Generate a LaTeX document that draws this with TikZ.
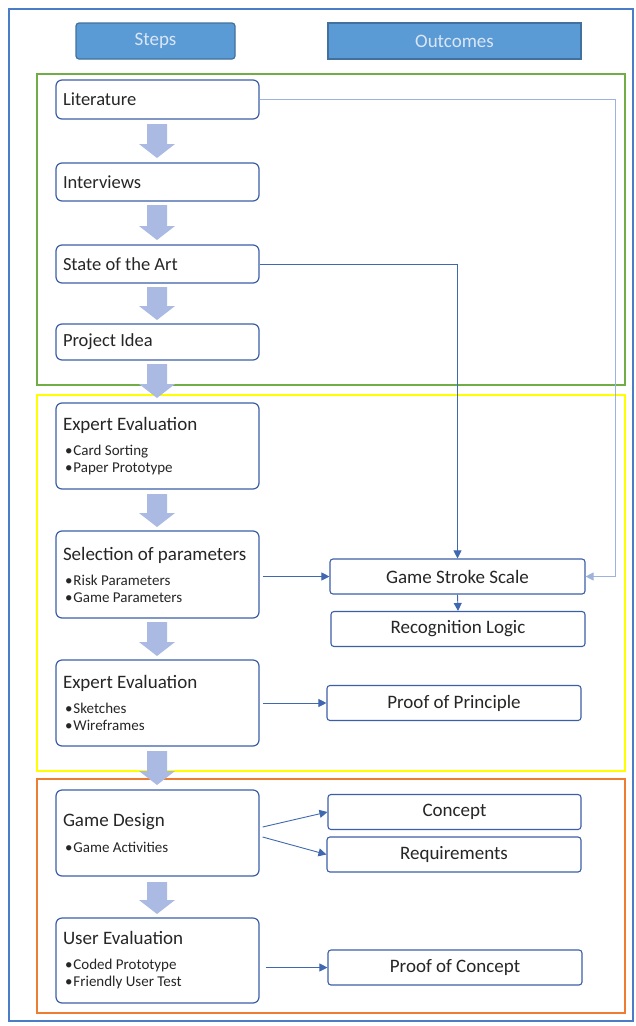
\documentclass[tikz,border=0pt]{standalone}
\usepackage{fontspec}
\setmainfont{Carlito}
\usetikzlibrary{arrows.meta}
\definecolor{frameblue}{HTML}{4A7CC8}
\definecolor{headfill}{HTML}{5B9BD5}
\definecolor{headline}{HTML}{41719C}
\definecolor{headtext}{HTML}{DAE6F5}
\definecolor{boxline}{HTML}{3B5EA8}
\definecolor{blockfill}{HTML}{ABBAE2}
\definecolor{litline}{HTML}{9DB3DE}
\definecolor{connblue}{HTML}{4068B0}
\definecolor{grn}{HTML}{70AD47}
\definecolor{ylw}{HTML}{FFFF00}
\definecolor{org}{HTML}{ED7D31}
\definecolor{txt}{HTML}{262626}
\tikzset{
  x=1pt, y=-1pt,
  header/.style={draw=headline, fill=headfill, line width=1.2pt, text=headtext,
    minimum height=36pt, inner sep=0pt, font=\fontsize{19}{21}\selectfont},
  stepbox/.style={draw=boxline, line width=1.2pt, rounded corners=6pt, fill=white,
    text width=189pt, align=flush left, inner xsep=7pt, inner ysep=0pt, text=txt,
    font=\fontsize{18.5}{22}\selectfont},
  outbox/.style={draw=boxline, line width=1.1pt, rounded corners=3pt, fill=white,
    minimum width=254pt, minimum height=35pt, inner sep=0pt, text=txt,
    font=\fontsize{19}{21}\selectfont},
  frame/.style={line width=2.2pt},
  conn/.style={draw=connblue, line width=0.9pt, -{Triangle[length=8pt,width=8pt]}},
  blockarrow/.style={fill=blockfill, draw=none},
}
\newcommand{\ttl}[1]{{\fontsize{19}{22}\selectfont #1}}
\newcommand{\bul}{\fontsize{15}{18}\selectfont}
\newcommand{\bi}{\hspace*{2pt}•\hspace{1pt}}
\newcommand{\blkarrow}[2]{%
  \fill[blockarrow] (147,#1) -- (167,#1) -- (167,#2-14) -- (175,#2-14) -- (157,#2)
    -- (139,#2-14) -- (147,#2-14) -- cycle;}
\begin{document}
\begin{tikzpicture}
\useasboundingbox (0,0) rectangle (636,1026);
% outer frame
\draw[frameblue, line width=1.3pt] (9,9) rectangle (633,1021);
% headers
\node[header, minimum width=159pt, rounded corners=3pt] (steps) at (155.5,41) {Steps};
\node[header, minimum width=253pt] (outc) at (454.5,41) {Outcomes};
% phase frames
\draw[grn, frame] (37,74) rectangle (625,385);
\draw[ylw, frame] (37,395) rectangle (625,771);
\draw[org, frame] (37,779) rectangle (625,1013);
% block arrows
\blkarrow{124}{158}
\blkarrow{205}{240}
\blkarrow{287}{320}
\blkarrow{364}{398}
\blkarrow{494}{527}
\blkarrow{622}{656}
\blkarrow{751}{785}
\blkarrow{882}{914}
% step boxes
\node[stepbox, minimum height=39pt] (lit) at (157.5,99.5) {Literature};
\node[stepbox, minimum height=38pt] (intv) at (157.5,182) {Interviews};
\node[stepbox, minimum height=38pt] (soa) at (157.5,264) {State of the Art};
\node[stepbox, minimum height=36pt] (pid) at (157.5,342) {Project Idea};
\node[stepbox, minimum height=86pt] (ee1) at (157.5,446)
  {\ttl{Expert Evaluation}\\[7pt]\bul \bi Card Sorting\\[-5pt]\bi Paper Prototype};
\node[stepbox, minimum height=87pt] (sel) at (157.5,574.5)
  {\ttl{Selection of parameters}\\[7pt]\bul \bi Risk Parameters\\[-5pt]\bi Game Parameters};
\node[stepbox, minimum height=86pt] (ee2) at (157.5,703)
  {\ttl{Expert Evaluation}\\[7pt]\bul \bi Sketches\\[-5pt]\bi Wireframes};
\node[stepbox, minimum height=86pt] (gd) at (157.5,833)
  {\ttl{Game Design}\\[4pt]\bul \bi Game Activities};
\node[stepbox, minimum height=85pt] (ue) at (157.5,960.5)
  {\ttl{User Evaluation}\\[7pt]\bul \bi Coded Prototype\\[-5pt]\bi Friendly User Test};
% outcome boxes
\node[outbox, minimum width=255pt] (gss) at (457.5,576.5) {Game Stroke Scale};
\node[outbox, minimum width=254pt] (rl) at (458,629) {Recognition Logic};
\node[outbox] (pop) at (454,703) {Proof of Principle};
\node[outbox, minimum width=253pt] (conc) at (454.5,812) {Concept};
\node[outbox] (req) at (454,854.5) {Requirements};
\node[outbox] (poc) at (455,967.5) {Proof of Concept};
% connectors
\coordinate (litturn) at (615,576.5);
\draw[conn, draw=litline] (lit.east) -| (litturn) -- (gss.east);
\draw[conn] (soa.east) -| (gss.north);
\draw[conn] (gss.south) -- (rl.north);
\draw[conn] ([xshift=3pt]sel.east |- gss.west) -- (gss.west);
\draw[conn] ([xshift=3pt]ee2.east) -- (pop.west);
\draw[conn] ([xshift=3pt,yshift=6pt]gd.east) -- (conc.west);
\draw[conn] ([xshift=3pt,yshift=-4pt]gd.east) -- (req.west);
\draw[conn] ([xshift=6pt]ue.east |- poc.west) -- (poc.west);
\end{tikzpicture}
\end{document}
